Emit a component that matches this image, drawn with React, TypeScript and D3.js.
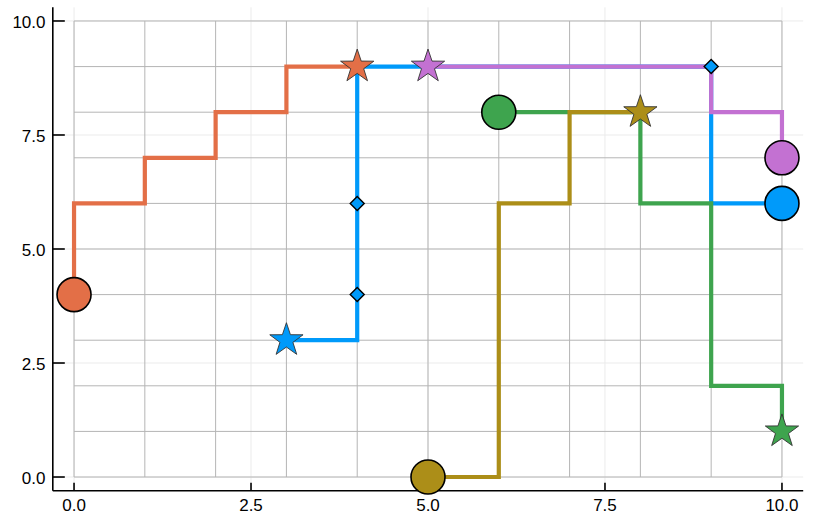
import React from "react";
import * as d3 from "d3";

// ---- data ----
const tickValues = [0, 2.5, 5, 7.5, 10];
const tickLabels = ["0.0", "2.5", "5.0", "7.5", "10.0"];
const gridValues = [0, 1, 2, 3, 4, 5, 6, 7, 8, 9, 10];

const seriesNames = ["blue", "orange", "green", "purple", "gold"];
const seriesColors = ["#009AFA", "#E36F47", "#3EA44E", "#C371D2", "#AC8E18"];
const blueX = [3, 4, 9, 10];
const blueY = [3, 9, 6, 6];
const orangeX = [4, 3, 2, 1, 0];
const orangeY = [9, 8, 7, 6, 4];
const greenX = [6, 8, 9, 10];
const greenY = [8, 6, 2, 1];
const purpleX = [5, 9, 10];
const purpleY = [9, 8, 7];
const goldX = [5, 6, 7, 8];
const goldY = [0, 6, 8, 8];

const starX = [3, 4, 10, 5, 8];
const starY = [3, 9, 1, 9, 8];
const circleX = [10, 0, 6, 10, 5];
const circleY = [6, 4, 8, 7, 0];

const diamondX = [4, 4, 9];
const diamondY = [4, 6, 9];

const W = 830;
const H = 525;

export default function App() {
  const x = d3.scaleLinear().domain([-0.3, 10.3]).range([52.8, 803.2]);
  const y = d3.scaleLinear().domain([-0.3, 10.3]).range([490.7, 7.3]);

  const xsAll = [blueX, orangeX, greenX, purpleX, goldX];
  const ysAll = [blueY, orangeY, greenY, purpleY, goldY];

  const line = d3
    .line<[number, number]>()
    .x((d) => x(d[0]))
    .y((d) => y(d[1]))
    .curve(d3.curveStepAfter);

  const starPath = (r: number) => {
    const inner = r * 0.39;
    const pts: [number, number][] = [];
    for (let i = 0; i < 10; i++) {
      const rr = i % 2 === 0 ? r : inner;
      const a = (Math.PI / 5) * i - Math.PI / 2;
      pts.push([rr * Math.cos(a), rr * Math.sin(a)]);
    }
    return "M" + pts.map((p) => p[0].toFixed(2) + "," + p[1].toFixed(2)).join("L") + "Z";
  };
  const star = starPath(17.5);
  const dR = 7;
  const diamond = `M0,${-dR}L${dR},0L0,${dR}L${-dR},0Z`;

  const [x0, x1] = x.range();
  const [y0, y1] = y.range();
  const font = "'Liberation Sans', Arial, Helvetica, sans-serif";

  return (
    <svg
      width={W}
      height={H}
      style={{ position: "absolute", left: 0, top: 0, background: "#fff" }}
    >
      <rect x={0} y={0} width={W} height={H} fill="#fff" />
      {/* light major grid */}
      <g stroke="#ebebeb" strokeWidth={1}>
        {tickValues.map((v, i) => (
          <line key={"gx" + i} x1={x(v)} x2={x(v)} y1={y0} y2={y1} />
        ))}
        {tickValues.map((v, i) => (
          <line key={"gy" + i} x1={x0} x2={x1} y1={y(v)} y2={y(v)} />
        ))}
      </g>
      {/* integer grid lines */}
      <g stroke="#b5b5b5" strokeWidth={1}>
        {gridValues.map((v, i) => (
          <line key={"ix" + i} x1={x(v)} x2={x(v)} y1={y(0)} y2={y(10)} />
        ))}
        {gridValues.map((v, i) => (
          <line key={"iy" + i} x1={x(0)} x2={x(10)} y1={y(v)} y2={y(v)} />
        ))}
      </g>
      {/* axes */}
      <g stroke="#000" strokeWidth={1.6}>
        <line x1={x0} x2={x1} y1={y0} y2={y0} />
        <line x1={x0} x2={x0} y1={y0} y2={y1} />
        {tickValues.map((v, i) => (
          <line key={"tx" + i} x1={x(v)} x2={x(v)} y1={y0} y2={y0 - 8} />
        ))}
        {tickValues.map((v, i) => (
          <line key={"ty" + i} x1={x0} x2={x0 + 12} y1={y(v)} y2={y(v)} />
        ))}
      </g>
      <g fontFamily={font} fontSize={17} fill="#000">
        {tickValues.map((v, i) => (
          <text key={"lx" + i} x={x(v)} y={510.5} textAnchor="middle">
            {tickLabels[i]}
          </text>
        ))}
        {tickValues.map((v, i) => (
          <text key={"ly" + i} x={45.5} y={y(v) + 7} textAnchor="end">
            {tickLabels[i]}
          </text>
        ))}
      </g>
      {/* series */}
      {seriesNames.map((name, si) => {
        const pts = xsAll[si].map((xv, j) => [xv, ysAll[si][j]] as [number, number]);
        return (
          <g key={name}>
            <path
              d={line(pts) || ""}
              fill="none"
              stroke={seriesColors[si]}
              strokeWidth={4.2}
              strokeLinejoin="miter"
              strokeLinecap="butt"
            />
            <path
              d={star}
              transform={`translate(${x(starX[si])},${y(starY[si])})`}
              fill={seriesColors[si]}
              stroke="#333"
              strokeWidth={0.9}
              strokeLinejoin="miter"
            />
            <circle
              cx={x(circleX[si])}
              cy={y(circleY[si])}
              r={17}
              fill={seriesColors[si]}
              stroke="#000"
              strokeWidth={1.6}
            />
          </g>
        );
      })}
      {/* diamonds */}
      {diamondX.map((dx, i) => (
        <path
          key={"dm" + i}
          d={diamond}
          transform={`translate(${x(dx)},${y(diamondY[i])})`}
          fill={seriesColors[0]}
          stroke="#000"
          strokeWidth={1.4}
        />
      ))}
    </svg>
  );
}
